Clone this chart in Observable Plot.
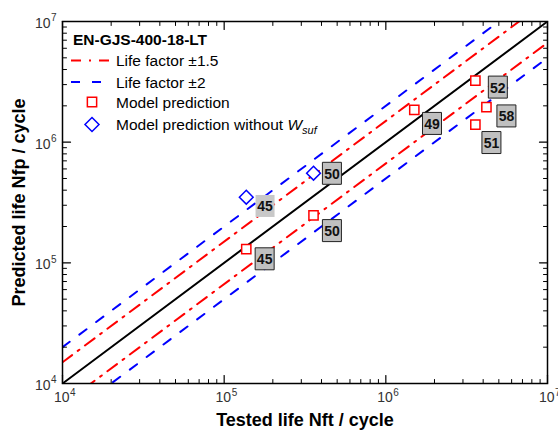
<!DOCTYPE html>
<html><head><meta charset="utf-8">
<script src="https://cdn.jsdelivr.net/npm/d3@7"></script>
<script src="https://cdn.jsdelivr.net/npm/@observablehq/plot@0.6"></script>
<style>
body{margin:0;background:#fff;}
#wrap{position:relative;width:558px;height:435px;font-family:"Liberation Sans",Arial,sans-serif;}
#legend{position:absolute;left:0;top:0;}
</style></head><body><div id="wrap"></div>
<script>
// Model prediction (red squares)
const testedLife = [1.37e5, 3.57e5, 3.58e6, 1.50e6, 4.19e6, 3.58e6];
const predictedLife = [1.30e5, 2.47e5, 3.24e6, 1.85e6, 1.95e6, 1.40e6];
// Model prediction without W_suf (blue diamonds)
const testedLifeNoWsuf = [1.37e5, 3.57e5];
const predictedLifeNoWsuf = [3.50e5, 5.53e5];
// Box annotations
const labelText = ["45", "45", "50", "50", "49", "52", "58", "51"];
const labelX = [1.79e5, 1.78e5, 4.64e5, 4.64e5, 1.93e6, 4.93e6, 5.57e6, 4.50e6];
const labelY = [2.96e5, 1.08e5, 5.52e5, 1.85e5, 1.43e6, 2.86e6, 1.65e6, 9.93e5];
const labelBoxed = [false, true, true, true, true, true, true, true];
// Scatter band factors
const lifeFactors = [1.5, 2];
const axisRange = [1e4, 1e7];
const majorTicks = [1e4, 1e5, 1e6, 1e7];
const majorExponents = ["4", "5", "6", "7"];
const minorTicks = [2e4, 3e4, 4e4, 5e4, 6e4, 7e4, 8e4, 9e4,
                    2e5, 3e5, 4e5, 5e5, 6e5, 7e5, 8e5, 9e5,
                    2e6, 3e6, 4e6, 5e6, 6e6, 7e6, 8e6, 9e6];
const titleText = "EN-GJS-400-18-LT";
const legendLabels = ["Life factor \u00B11.5", "Life factor \u00B12", "Model prediction", "Model prediction without "];
const xTitle = "Tested life Nft / cycle";
const yTitle = "Predicted life Nfp / cycle";

const FONT = '"Liberation Sans", Arial, sans-serif';
const TICK_COLOR = "#333";

function factorLine(f) { return axisRange.map(x => ({x, y: x * f})); }

const styles = {
  1.5: {stroke: "#ff0000", dash: "12,7,2,7"},
  2: {stroke: "#0000ff", dash: "9,12"}
};

const lineMarks = [];
for (const f of [...lifeFactors].reverse()) {
  const s = styles[f];
  for (const k of [f, 1 / f]) {
    lineMarks.push(Plot.line(factorLine(k), {x: "x", y: "y", stroke: s.stroke, strokeWidth: 2, strokeDasharray: s.dash, clip: true}));
  }
}
lineMarks.push(Plot.line(factorLine(1), {x: "x", y: "y", stroke: "black", strokeWidth: 2, clip: true}));

const boxSymbol = {draw(ctx) { ctx.moveTo(-9.5, -11); ctx.lineTo(9.5, -11); ctx.lineTo(9.5, 11); ctx.lineTo(-9.5, 11); ctx.closePath(); }};
const labels = labelText.map((t, i) => ({t, x: labelX[i], y: labelY[i], boxed: labelBoxed[i]}));

const tickShape = {draw(ctx, l) { ctx.moveTo(0, 0); ctx.lineTo(0, -l); }};
function ticks(data, dim, anchor, rotate, length, sw) {
  const o = {frameAnchor: anchor, rotate, length, anchor: "start", shape: tickShape, stroke: "black", strokeWidth: sw};
  o[dim] = d => d;
  return Plot.vector(data, o);
}

const chart = Plot.plot({
  width: 558, height: 435,
  marginLeft: 62, marginRight: 11, marginTop: 21, marginBottom: 52,
  style: {fontFamily: FONT, fontSize: "14px", color: "#222", background: "white"},
  x: {type: "log", domain: axisRange, label: null, axis: null},
  y: {type: "log", domain: axisRange, label: null, axis: null},
  marks: [
    ...lineMarks,
    Plot.dot(testedLife.map((x, i) => ({x, y: predictedLife[i]})), {x: "x", y: "y", symbol: "square", r: 5.2, stroke: "#ff0000", strokeWidth: 1.5, fill: "white"}),
    Plot.dot(testedLifeNoWsuf.map((x, i) => ({x, y: predictedLifeNoWsuf[i]})), {x: "x", y: "y", symbol: "diamond2", r: 6.2, stroke: "#0000ff", strokeWidth: 1.5, fill: "white"}),
    Plot.dot(labels, {x: "x", y: "y", symbol: boxSymbol, r: 5, fill: d => d.boxed ? "#c0c0c0" : "#c8c8c8", stroke: d => d.boxed ? "#222" : "none", strokeWidth: 1}),
    Plot.text(labels, {x: "x", y: "y", text: "t", fontWeight: "bold", fontSize: 14, fill: "#111", dy: 1}),
    Plot.frame({stroke: "black", strokeWidth: 1.5}),
    // inward ticks on all four sides
    ticks(majorTicks, "x", "bottom", 0, 8, 1.2),
    ticks(minorTicks, "x", "bottom", 0, 4, 1),
    ticks(majorTicks, "x", "top", 180, 8, 1.2),
    ticks(minorTicks, "x", "top", 180, 4, 1),
    ticks(majorTicks, "y", "left", 90, 8, 1.2),
    ticks(minorTicks, "y", "left", 90, 4, 1),
    ticks(majorTicks, "y", "right", -90, 8, 1.2),
    ticks(minorTicks, "y", "right", -90, 4, 1),
    // tick labels: 10 with superscript exponent
    Plot.text(majorTicks, {x: d => d, frameAnchor: "bottom", text: () => "10", textAnchor: "end", dx: 7, dy: 18, fontSize: 14, fill: TICK_COLOR}),
    Plot.text(majorTicks, {x: d => d, frameAnchor: "bottom", text: (d, i) => majorExponents[i], textAnchor: "start", dx: 7.5, dy: 12.5, fontSize: 10, fill: TICK_COLOR}),
    Plot.text(majorTicks, {y: d => d, frameAnchor: "left", text: () => "10", textAnchor: "end", dx: -12, dy: 2, fontSize: 14, fill: TICK_COLOR}),
    Plot.text(majorTicks, {y: d => d, frameAnchor: "left", text: (d, i) => majorExponents[i], textAnchor: "start", dx: -11.5, dy: -3.5, fontSize: 10, fill: TICK_COLOR}),
    // axis titles
    Plot.text([xTitle], {frameAnchor: "bottom", dy: 42, text: d => d, fontWeight: "bold", fontSize: 18, fill: "black"}),
    Plot.text([yTitle], {frameAnchor: "left", dx: -43, rotate: -90, textAnchor: "middle", text: d => d, fontWeight: "bold", fontSize: 18, fill: "black"})
  ]
});
const wrap = document.getElementById("wrap");
wrap.appendChild(chart);

// Legend overlay (inside the plot frame, top-left)
const lg = d3.select(wrap).append("svg").attr("id", "legend").attr("width", 400).attr("height", 145)
  .style("font-family", FONT);
lg.append("text").attr("x", 73).attr("y", 45).attr("font-weight", "bold").attr("font-size", 15.5).attr("fill", "black").text(titleText);
const rowY = [60.5, 82, 102, 124.5];
lg.append("line").attr("x1", 71).attr("x2", 110).attr("y1", rowY[0]).attr("y2", rowY[0])
  .attr("stroke", "#ff0000").attr("stroke-width", 2).attr("stroke-dasharray", "10,8,2,8");
lg.append("line").attr("x1", 71).attr("x2", 110).attr("y1", rowY[1]).attr("y2", rowY[1])
  .attr("stroke", "#0000ff").attr("stroke-width", 2).attr("stroke-dasharray", "9,12");
lg.append("path").attr("d", d3.symbol(d3.symbolSquare, 86)()).attr("transform", `translate(92,${rowY[2]})`)
  .attr("fill", "white").attr("stroke", "#ff0000").attr("stroke-width", 1.5);
lg.append("path").attr("d", d3.symbol(d3.symbolDiamond2, 125)()).attr("transform", `translate(92,${rowY[3]})`)
  .attr("fill", "white").attr("stroke", "#0000ff").attr("stroke-width", 1.5);
legendLabels.forEach((t, i) => {
  const tx = lg.append("text").attr("x", 116).attr("y", rowY[i] + 5.5).attr("font-size", 15.5).attr("fill", "black").text(t);
  if (i === 3) {
    tx.append("tspan").attr("font-style", "italic").text("W");
    tx.append("tspan").attr("font-style", "italic").attr("font-size", 11).attr("dy", 4).text("suf");
  }
});
</script>
</body></html>
